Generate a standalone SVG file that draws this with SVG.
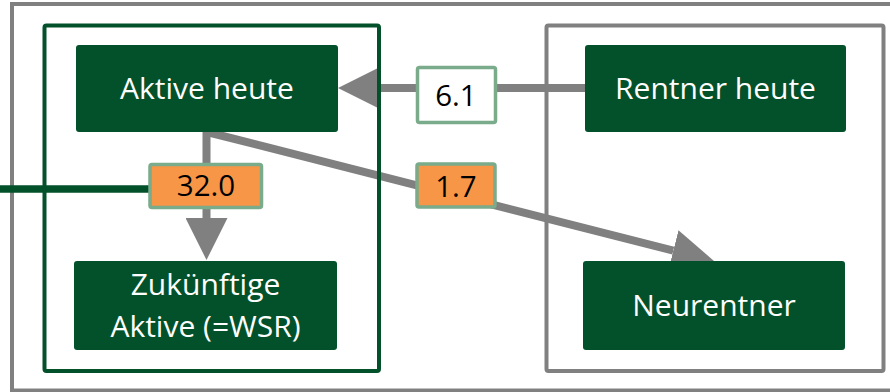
<svg xmlns="http://www.w3.org/2000/svg" width="890" height="392" viewBox="0 0 890 392">
<style>
.frame{fill:none;stroke-width:4}
.gray{stroke:#808080}
.green{stroke:#03512a}
.node rect{fill:#03512a}
.node text{fill:#ffffff;font-family:"Open Sans","Noto Sans",sans-serif;font-size:30px;text-anchor:middle}
.conn{fill:none;stroke:#808080;stroke-width:8;marker-end:url(#ah)}
.lbl rect{stroke:#7aab8a;stroke-width:3.5}
.lbl text{fill:#000000;font-family:"Open Sans","Noto Sans",sans-serif;font-size:29.5px;text-anchor:middle}
</style>
<defs>
<marker id="ah" markerUnits="userSpaceOnUse" markerWidth="42" markerHeight="42" viewBox="0 0 42 42" refX="0" refY="21" orient="auto">
<path d="M0,0 L42,21 L0,42 z" fill="#808080"/>
</marker>
</defs>
<rect class="frame gray" x="12" y="4" width="900" height="386.5"/>
<g id="connectors">
<path class="conn" d="M585,88 L380,88"/>
<path class="conn" d="M206.5,132 L206.5,218"/>
<path class="conn" d="M207,132 L673.3,250.6"/>
<path d="M0,189 L150,189" fill="none" stroke="#03512a" stroke-width="7.5"/>
</g>
<rect class="frame green" x="44.5" y="25.5" width="334.5" height="345.5" rx="2"/>
<rect class="frame gray" x="546.5" y="25.5" width="337" height="345.5" rx="2"/>
<g id="aktive-heute" class="node">
<rect x="76" y="45" width="262" height="87" rx="3"/>
<text x="207" y="99">Aktive heute</text>
</g>
<g id="rentner-heute" class="node">
<rect x="585" y="45" width="261" height="87" rx="3"/>
<text x="715.5" y="99">Rentner heute</text>
</g>
<g id="zukuenftige-aktive" class="node">
<rect x="74" y="261" width="263" height="89" rx="3"/>
<text x="205.5" y="295">Zukünftige</text>
<text x="205.5" y="336.5">Aktive (=WSR)</text>
</g>
<g id="neurentner" class="node">
<rect x="583" y="261" width="262" height="89" rx="3"/>
<text x="714" y="316">Neurentner</text>
</g>
<g id="label-6-1" class="lbl">
<rect x="417.5" y="67.5" width="78" height="55" rx="2" fill="#ffffff"/>
<text x="456" y="105.5">6.1</text>
</g>
<g id="label-32-0" class="lbl">
<rect x="150" y="164.5" width="111.5" height="43" rx="2" fill="#f79646"/>
<text x="206" y="196">32.0</text>
</g>
<g id="label-1-7" class="lbl">
<rect x="417" y="164" width="78" height="43" rx="2" fill="#f79646"/>
<text x="456" y="196.5">1.7</text>
</g>
</svg>
